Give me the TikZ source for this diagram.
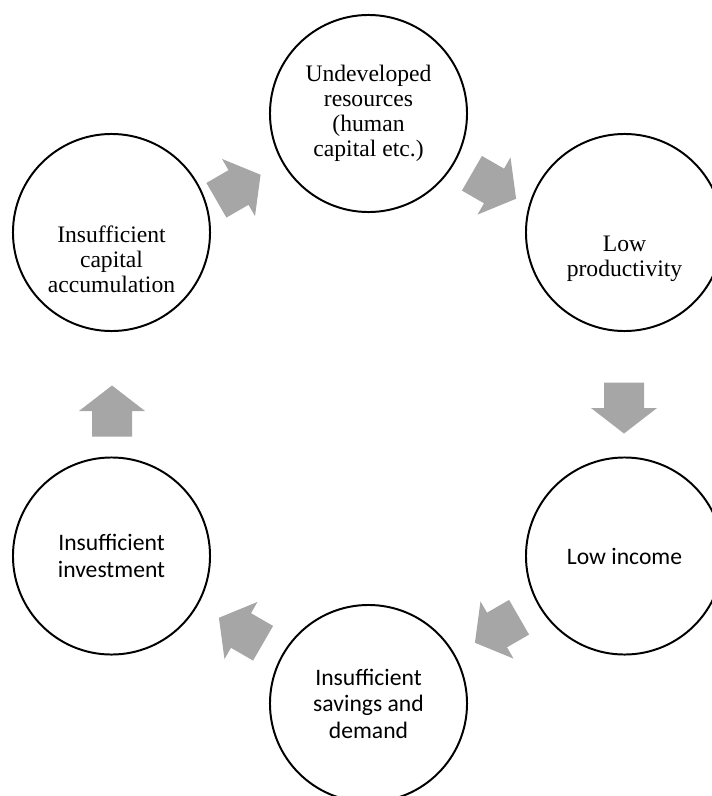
\documentclass[tikz,border=0pt]{standalone}
\usepackage{fontspec}
\setmainfont{Liberation Serif}
\newfontfamily\calibfont{Carlito}
\usetikzlibrary{positioning}
\definecolor{arrgray}{RGB}{166,166,166}

\begin{document}
\begin{tikzpicture}[
    x=0.025cm, y=-0.025cm,
    circ/.style={circle, draw, line width=1.4pt, minimum size=4.925cm, inner sep=0pt},
    txtserif/.style={align=center, font=\fontsize{16.8}{17.8}\selectfont},
    txtsans/.style={align=center, font=\calibfont\fontsize{16.8}{18.9}\selectfont},
    blkarrow/.pic={
      \fill[arrgray] (-25.5,-20) -- (0,-20) -- (0,-33) -- (25.5,0) -- (0,33) -- (0,20) -- (-25.5,20) -- cycle;
    }
]
\useasboundingbox (0,0) rectangle (711,796);

% the six stages of the cycle
\node[circ, txtserif] (undev) at (368.5,113.5) {Undeveloped\\resources\\(human\\capital etc.)};
\node[circ] (prod) at (624.5,232.5) {};
\node[txtserif] (prodtxt) at ([yshift=-0.66cm]prod.center) {Low\\productivity};
\node[circ, txtsans] (income) at (624.5,556) {Low income};
\node[circ, txtsans] (savings) at (368.5,703.5) {Insufficient\\savings and\\demand};
\node[circ, txtsans] (invest) at (111.5,556) {Insufficient\\investment};
\node[circ] (capacc) at (111.5,232.5) {};
\node[txtserif] (capacctxt) at ([yshift=-0.66cm]capacc.center) {Insufficient\\capital\\accumulation};

% block arrows between the stages
\pic[rotate=30] (a1) at (238.5,187.5) {blkarrow};
\pic[rotate=-30] (a2) at (494,186) {blkarrow};
\pic[rotate=-90] (a3) at (624,408) {blkarrow};
\pic[rotate=210] (a4) at (497,630) {blkarrow};
\pic[rotate=150] (a5) at (241,630.5) {blkarrow};
\pic[rotate=90] (a6) at (112,411) {blkarrow};
\end{tikzpicture}
\end{document}
